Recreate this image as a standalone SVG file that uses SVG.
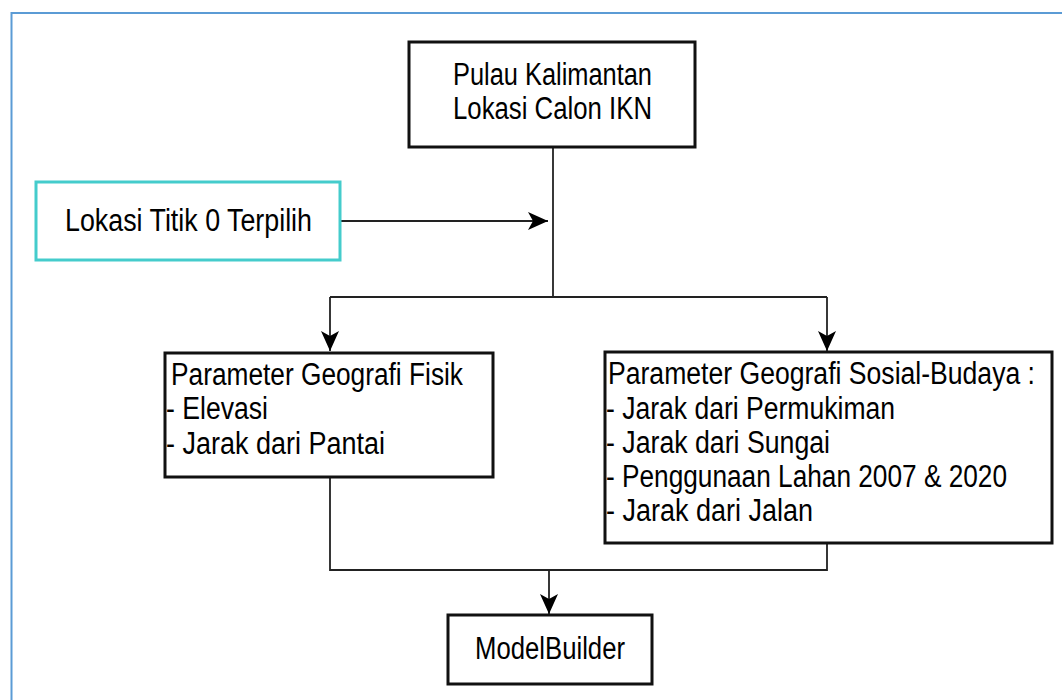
<svg xmlns="http://www.w3.org/2000/svg" width="1062" height="700" viewBox="0 0 1062 700">
<style>
.box{fill:#fff;stroke:#111;stroke-width:3}
.cyan{fill:#fff;stroke:#44cccc;stroke-width:3}
.t{font-family:"Liberation Sans",Arial,sans-serif;font-size:31px;fill:#000}
.c{text-anchor:middle}
.ln{fill:none;stroke:#222;stroke-width:1.8}
</style>
<defs>
<marker id="ah" markerUnits="userSpaceOnUse" markerWidth="22" markerHeight="18" refX="20" refY="9" orient="auto" viewBox="0 0 22 18">
<path d="M0,0 L20,9 L0,18 L5,9 Z" fill="#000"/>
</marker>
</defs>
<rect x="0" y="0" width="1062" height="700" fill="#fff"/>
<rect x="11.5" y="13" width="1100" height="750" fill="none" stroke="#5b9bd5" stroke-width="2"/>
<g id="connectors">
<path class="ln" d="M553,147 V297"/>
<path class="ln" d="M340,221 H548" marker-end="url(#ah)"/>
<path class="ln" d="M330,297 H827"/>
<path class="ln" d="M330,297 V351" marker-end="url(#ah)"/>
<path class="ln" d="M827,297 V351" marker-end="url(#ah)"/>
<path class="ln" d="M330,477 V570 H827 V543"/>
<path class="ln" d="M549,570 V614" marker-end="url(#ah)"/>
</g>
<g id="node-pulau">
<rect class="box" x="409" y="42" width="286" height="105"/>
<text class="t c" x="552.5" y="85" textLength="199" lengthAdjust="spacingAndGlyphs">Pulau Kalimantan</text>
<text class="t c" x="552.5" y="119" textLength="199" lengthAdjust="spacingAndGlyphs">Lokasi Calon IKN</text>
</g>
<g id="node-lokasi">
<rect class="cyan" x="36" y="182" width="304" height="78"/>
<text class="t" x="65" y="231" textLength="247" lengthAdjust="spacingAndGlyphs">Lokasi Titik 0 Terpilih</text>
</g>
<g id="node-fisik">
<rect class="box" x="165" y="353" width="328" height="124"/>
<text class="t" x="171" y="385" textLength="292" lengthAdjust="spacingAndGlyphs">Parameter Geografi Fisik</text>
<text class="t" x="166" y="419" textLength="102" lengthAdjust="spacingAndGlyphs">- Elevasi</text>
<text class="t" x="166" y="454" textLength="219" lengthAdjust="spacingAndGlyphs">- Jarak dari Pantai</text>
</g>
<g id="node-sosial">
<rect class="box" x="605" y="352" width="447" height="191"/>
<text class="t" x="608" y="384" textLength="427" lengthAdjust="spacingAndGlyphs">Parameter Geografi Sosial-Budaya :</text>
<text class="t" x="606" y="419" textLength="289" lengthAdjust="spacingAndGlyphs">- Jarak dari Permukiman</text>
<text class="t" x="606" y="453" textLength="224" lengthAdjust="spacingAndGlyphs">- Jarak dari Sungai</text>
<text class="t" x="606" y="487" textLength="401" lengthAdjust="spacingAndGlyphs">- Penggunaan Lahan 2007 &amp; 2020</text>
<text class="t" x="606" y="521" textLength="207" lengthAdjust="spacingAndGlyphs">- Jarak dari Jalan</text>
</g>
<g id="node-modelbuilder">
<rect class="box" x="448" y="615" width="204" height="69"/>
<text class="t c" x="550" y="659" textLength="150" lengthAdjust="spacingAndGlyphs">ModelBuilder</text>
</g>
</svg>
